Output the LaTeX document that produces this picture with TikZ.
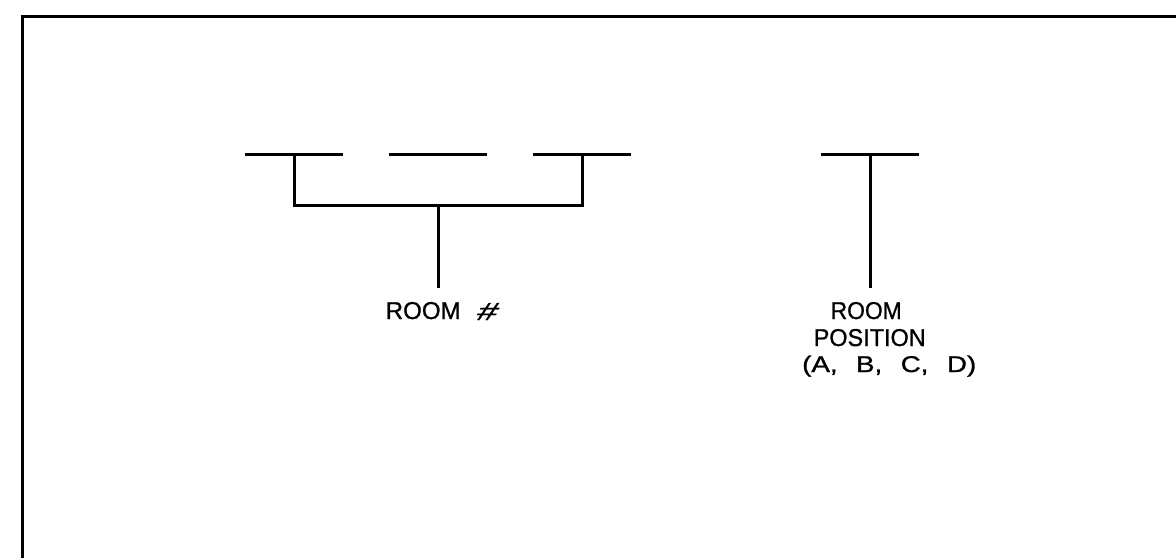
\documentclass[tikz,border=0pt]{standalone}
\usepackage{graphicx}
\usepackage{fontspec}
\setmainfont{Liberation Sans}[FakeBold=1]
\begin{document}
\begin{tikzpicture}[x=1pt,y=-1pt,
  ln/.style={line width=3pt,line join=miter,line cap=butt},
  lbl/.style={inner sep=0pt,anchor=base west,font=\fontsize{21}{21}\selectfont}]
\useasboundingbox (0,0) rectangle (1176,558);
% frame (top and left edges visible)
\coordinate (fbl) at (22.5,558);
\coordinate (ftl) at (22.5,16);
\coordinate (ftr) at (1176,16);
\draw[ln] (fbl) -- (ftl) -- (ftr);
% blanks for room number
\coordinate (b1l) at (245,154); \coordinate (b1r) at (343,154);
\coordinate (b2l) at (389,154); \coordinate (b2r) at (487,154);
\coordinate (b3l) at (533,154); \coordinate (b3r) at (631,154);
\draw[ln] (b1l) -- (b1r);
\draw[ln] (b2l) -- (b2r);
\draw[ln] (b3l) -- (b3r);
\coordinate (s1) at (294,154); \coordinate (s3) at (582,154);
\coordinate (k1) at (294,205); \coordinate (k3) at (582,205);
\draw[ln] (s1) -- (k1) -- (k3) -- (s3);
\coordinate (km) at (438,205); \coordinate (ke) at (438,288);
\draw[ln] (km) -- (ke);
\node[lbl] (room) at (385.5,319) {\resizebox{75pt}{17pt}{ROOM}};
\node[lbl] (hash) at (475,320) {\resizebox{20pt}{17pt}{\addfontfeature{FakeSlant=0.25}\#}};
% blank for room position
\coordinate (b4l) at (821,154); \coordinate (b4r) at (919,154);
\draw[ln] (b4l) -- (b4r);
\coordinate (s4) at (870,154); \coordinate (s4e) at (870,288);
\draw[ln] (s4) -- (s4e);
\node[lbl] (rp1) at (830.5,319) {\resizebox{71pt}{17pt}{ROOM}};
\node[lbl] (rp2) at (813.5,346) {\resizebox{112pt}{17pt}{POSITION}};
\node[lbl] (rp3) at (802,372) {\resizebox{174pt}{16.5pt}{(A,\hspace{14pt}B,\hspace{14pt}C,\hspace{14pt}D)}};
\end{tikzpicture}
\end{document}
